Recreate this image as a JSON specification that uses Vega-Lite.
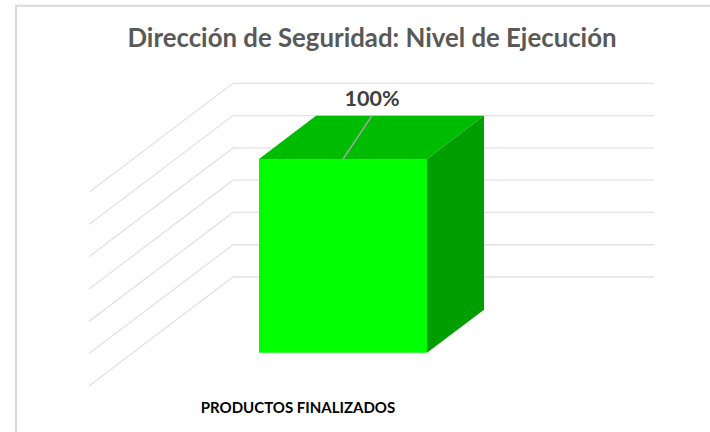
{
"$schema":"https://vega.github.io/schema/vega-lite/v6.json",
"width":710,"height":432,"padding":0,"autosize":{"type":"none"},
"background":"white",
"title":{"text":"Dirección de Seguridad: Nivel de Ejecución","font":"Lato","fontSize":25.8,"fontWeight":"bold","color":"#595959","anchor":"middle","dx":17,"dy":26,"offset":-47,"baseline":"alphabetic"},
"config":{"view":{"stroke":null}},
"datasets":{
"frame":[{"i":1,"x":710,"y":140},{"i":2,"x":16,"y":140},{"i":3,"x":16,"y":-80}],
"grid":[
{"level":"100%","x":89,"y":43.8},{"level":"100%","x":233,"y":100},{"level":"100%","x":654,"y":100},
{"level":"83%","x":89,"y":27.1},{"level":"83%","x":233,"y":83.33},{"level":"83%","x":654,"y":83.33},
{"level":"67%","x":89,"y":10.5},{"level":"67%","x":233,"y":66.67},{"level":"67%","x":654,"y":66.67},
{"level":"50%","x":89,"y":-6.2},{"level":"50%","x":233,"y":50},{"level":"50%","x":654,"y":50},
{"level":"33%","x":89,"y":-22.9},{"level":"33%","x":233,"y":33.33},{"level":"33%","x":654,"y":33.33},
{"level":"17%","x":89,"y":-39.5},{"level":"17%","x":233,"y":16.67},{"level":"17%","x":654,"y":16.67},
{"level":"0%","x":89,"y":-56.2},{"level":"0%","x":233,"y":0},{"level":"0%","x":654,"y":0}],
"front":[{"x":259,"y":60.9,"y2":-39.1},{"x":427,"y":60.9,"y2":-39.1}],
"top":[{"x":259,"y":60.9,"y2":60.9},{"x":316,"y":83.3,"y2":60.9},{"x":427,"y":83.3,"y2":60.9},{"x":484,"y":83.3,"y2":83.3}],
"side":[{"x":427,"y":60.9,"y2":-39.1},{"x":484,"y":83.3,"y2":-16.9}],
"leader":[{"x":343,"y":60.9},{"x":372,"y":83.3}],
"value":[{"x":372,"y":91.5,"label":"100%"}],
"category":[{"x":298,"y":-67.5,"label":"PRODUCTOS FINALIZADOS"}]
},
"encoding":{
"x":{"field":"x","type":"quantitative","scale":{"domain":[0,710],"nice":false,"zero":false},"axis":null},
"y":{"field":"y","type":"quantitative","scale":{"domain":[-80,143],"nice":false,"zero":false},"axis":null}
},
"layer":[
{"data":{"name":"frame"},"mark":{"type":"line","color":"#d9d9d9","strokeWidth":2,"clip":false},"encoding":{"order":{"field":"i","type":"quantitative"}}},
{"data":{"name":"grid"},"mark":{"type":"line","color":"#e2e2e2","strokeWidth":1.3},"encoding":{"detail":{"field":"level","type":"nominal"}}},
{"data":{"name":"front"},"mark":{"type":"area","color":"#00ff00"},"encoding":{"y2":{"field":"y2"}}},
{"data":{"name":"top"},"mark":{"type":"area","color":"#00bc00"},"encoding":{"y2":{"field":"y2"}}},
{"data":{"name":"side"},"mark":{"type":"area","color":"#009e00"},"encoding":{"y2":{"field":"y2"}}},
{"data":{"name":"leader"},"mark":{"type":"line","color":"#a6a6a6","strokeWidth":1.5}},
{"data":{"name":"value"},"mark":{"type":"text","font":"Lato","fontSize":21.5,"fontWeight":"bold","color":"#404040","align":"center","baseline":"middle"},"encoding":{"text":{"field":"label","type":"nominal"}}},
{"data":{"name":"category"},"mark":{"type":"text","font":"Lato","fontSize":15,"fontWeight":"bold","color":"#000000","align":"center","baseline":"middle"},"encoding":{"text":{"field":"label","type":"nominal"}}}
]
}
